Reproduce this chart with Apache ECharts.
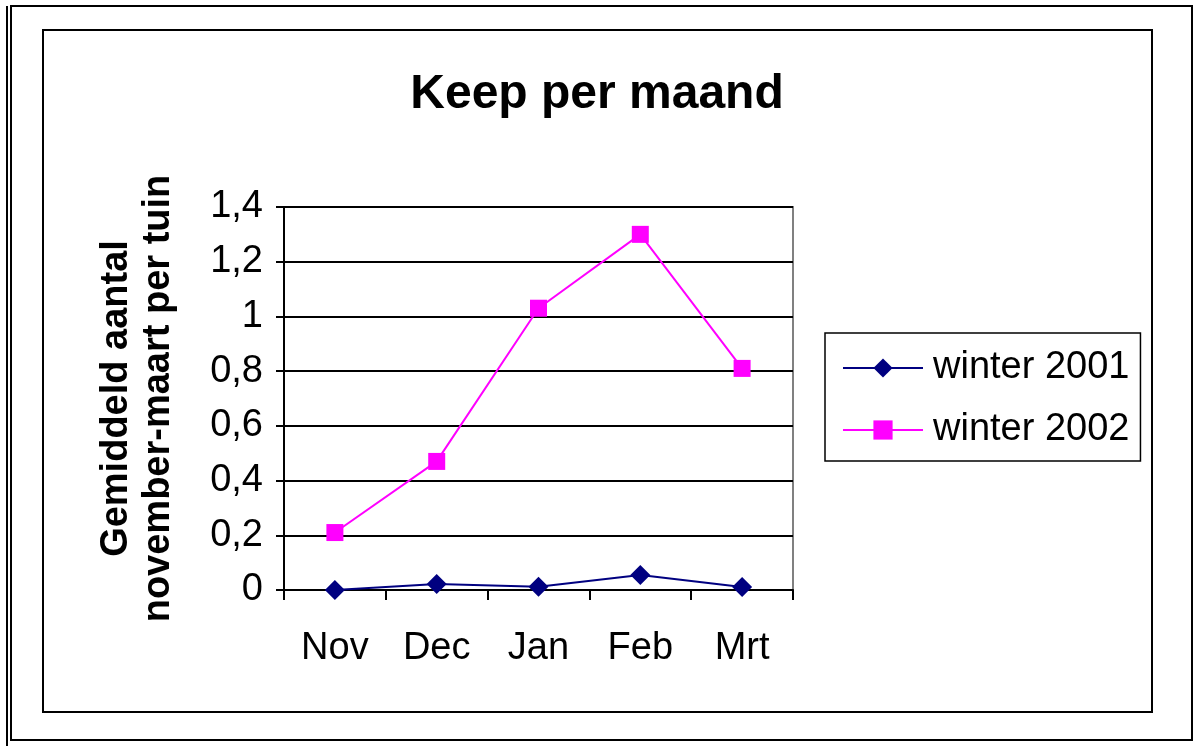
<!DOCTYPE html>
<html>
<head>
<meta charset="utf-8">
<script src="https://cdn.jsdelivr.net/npm/echarts@6/dist/echarts.min.js"></script>
<style>
  html, body { margin: 0; padding: 0; background: #fff; }
  #chart1 { width: 1194px; height: 746px; }
</style>
</head>
<body>
<div id="chart1"></div>
<script>
const maanden = ['Nov', 'Dec', 'Jan', 'Feb', 'Mrt'];
const winter2001 = [0, 0.022, 0.012, 0.055, 0.011];
const winter2002 = [0.21, 0.47, 1.03, 1.30, 0.81];

let chart1 = echarts.init(document.getElementById('chart1'));

let option = {
    animation: false,
    textStyle: { fontFamily: 'Liberation Sans, Arial, sans-serif' },
    title: {
        text: 'Keep per maand',
        left: 'center',
        top: 66,
        textStyle: { fontSize: 48, fontWeight: 'bold', color: '#000' }
    },
    // randen rond de grafiek
    graphic: [
        { type: 'rect', shape: { x: 11, y: 6, width: 1181, height: 734 }, style: { fill: null, stroke: '#000', lineWidth: 2 } },
        { type: 'line', shape: { x1: 7, y1: 6, x2: 7, y2: 746 }, style: { stroke: '#000', lineWidth: 2 } },
        { type: 'rect', shape: { x: 43, y: 30, width: 1109, height: 682 }, style: { fill: null, stroke: '#000', lineWidth: 2 } }
    ],
    grid: {
        left: 284, top: 207, right: 401, bottom: 156,
        show: true, borderColor: '#808080', borderWidth: 2
    },
    legend: {
        orient: 'vertical',
        left: 825,
        top: 333,
        padding: [16, 11, 12, 17],
        itemGap: 24,
        itemWidth: 80,
        itemHeight: 24,
        borderColor: '#000',
        borderWidth: 1.5,
        textStyle: { fontSize: 38, color: '#000', padding: [0, 0, 0, 5] },
        data: ['winter 2001', 'winter 2002']
    },
    xAxis: {
        type: 'category',
        data: maanden,
        boundaryGap: true,
        axisLine: { lineStyle: { color: '#000', width: 2 } },
        axisTick: { show: true, length: 10, lineStyle: { color: '#000', width: 2 } },
        axisLabel: { fontSize: 38, color: '#000', margin: 40 }
    },
    yAxis: {
        type: 'value',
        min: 0,
        max: 1.4,
        interval: 0.2,
        name: 'Gemiddeld aantal\nnovember-maart per tuin',
        nameLocation: 'middle',
        nameGap: 104,
        nameTextStyle: { fontSize: 38, fontWeight: 'bold', color: '#000', lineHeight: 42 },
        axisLine: { show: true, lineStyle: { color: '#000', width: 2 } },
        axisTick: { show: true, length: 8, lineStyle: { color: '#000', width: 2 } },
        axisLabel: {
            fontSize: 38, color: '#000', margin: 21,
            formatter: function (v) { return String(+v.toFixed(1)).replace('.', ','); }
        },
        splitLine: { show: true, lineStyle: { color: '#000', width: 2 } }
    },
    series: [
        {
            name: 'winter 2001',
            type: 'line',
            data: winter2001,
            symbol: 'diamond',
            symbolSize: 20,
            color: '#000080',
            lineStyle: { color: '#000080', width: 2 },
            itemStyle: { color: '#000080' }
        },
        {
            name: 'winter 2002',
            type: 'line',
            data: winter2002,
            symbol: 'rect',
            symbolSize: 17,
            color: '#FF00FF',
            lineStyle: { color: '#FF00FF', width: 2 },
            itemStyle: { color: '#FF00FF' }
        }
    ]
};

chart1.setOption(option);

window.addEventListener('resize', function () {
    chart1.resize();
});
</script>
</body>
</html>
